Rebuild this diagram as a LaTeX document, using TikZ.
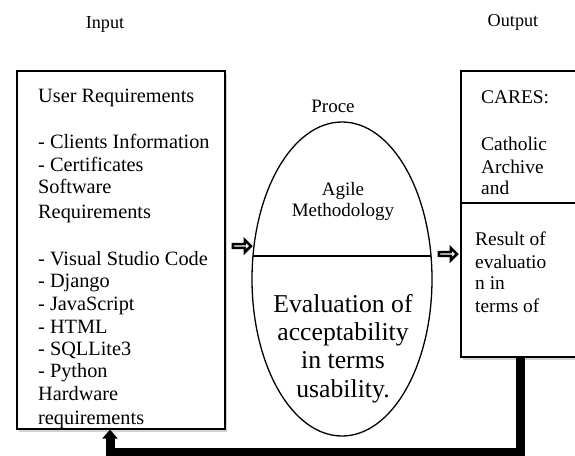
\documentclass[tikz,border=0pt]{standalone}
\usepackage{fontspec}
\setmainfont{Liberation Serif}
\usetikzlibrary{shapes.geometric,shapes.arrows,shadows,calc,arrows.meta}
\tikzset{
  box/.style={draw, line width=1.6pt, fill=white, inner sep=0pt, anchor=north west,
    drop shadow={shadow xshift=2pt, shadow yshift=-3pt, opacity=0.3, fill=black!60}},
  txt/.style={anchor=base west, inner sep=0pt, font=\fontsize{20.3}{23}\selectfont},
  rtxt/.style={anchor=base west, inner sep=0pt, font=\fontsize{19.4}{23}\selectfont},
  head/.style={anchor=base, inner sep=0pt, font=\fontsize{18.2}{22}\selectfont},
  ctxt/.style={anchor=base, inner sep=0pt},
  warrow/.style={shape=single arrow, draw, fill=white, line width=2.6pt, inner sep=0pt,
    minimum width=12pt, minimum height=18pt, single arrow head extend=3pt},
  divline/.style={line width=1.3pt},
  fb/.style={line width=9pt, line join=miter}
}
\begin{document}
\begin{tikzpicture}[x=1pt,y=-1pt]
\useasboundingbox (0,0) rectangle (575,455);
\clip (0,0) rectangle (575,455);
% headings
\node[head] (inlbl) at (105,28) {Input};
\node[head] (outlbl) at (513,27) {Output};
% input box
\node[box, minimum width=208pt, minimum height=358pt] (inbox) at (16,70) {};
\foreach \t/\yy [count=\i] in {{User Requirements}/102, {- Clients Information}/148,
  {- Certificates}/171, {Software}/193, {Requirements}/218, {- Visual Studio Code}/265,
  {- Django}/287, {- JavaScript}/310, {- HTML}/333, {- SQLLite3}/355, {- Python}/377,
  {Hardware}/400, {requirements}/424}
  \node[txt] (L\i) at (38,\yy) {\t};
\draw[line width=1.6pt] (inbox.south west) -- (inbox.south east);
% process ellipse
\node[draw, ellipse, line width=1.3pt, inner sep=0pt, minimum width=180pt, minimum height=314pt] (proc) at (342,279) {};
\draw[divline] ($(proc.center)+(-89,-23)$) coordinate (pl) -- ($(proc.center)+(89,-23)$) coordinate (pr);
\node[ctxt, font=\fontsize{19}{22}\selectfont] (prlbl) at (333,112) {Proce};
\node[ctxt, font=\fontsize{19}{22}\selectfont] (ag1) at (343,195) {Agile};
\node[ctxt, font=\fontsize{19}{22}\selectfont] (ag2) at (343,216) {Methodology};
\node[ctxt, font=\fontsize{25.7}{29}\selectfont] (ev1) at (343,312) {Evaluation of};
\node[ctxt, font=\fontsize{25.7}{29}\selectfont] (ev2) at (343,340) {acceptability};
\node[ctxt, font=\fontsize{25.7}{29}\selectfont] (ev3) at (343,368) {in terms};
\node[ctxt, font=\fontsize{25.7}{29}\selectfont] (ev4) at (343,397) {usability.};
% output box
\node[box, minimum width=140pt, minimum height=286pt] (outbox) at (460,70) {};
\draw[divline] ($(outbox.north west)+(0,133)$) coordinate (dl) -- ($(outbox.north east)+(0,133)$) coordinate (dr);
\node[rtxt] (o1) at (481,103) {CARES:};
\node[rtxt] (o2) at (481,150) {Catholic};
\node[rtxt] (o3) at (481,173) {Archive};
\node[rtxt] (o4) at (481,194) {and};
\node[rtxt] (o5) at (475,245) {Result of};
\node[rtxt] (o6) at (475,268) {evaluatio};
\node[rtxt] (o7) at (475,289) {n in};
\node[rtxt] (o8) at (475,312) {terms of};
% arrows
\node[warrow] (ar1) at (241,246) {};
\node[warrow] (ar2) at (447,254) {};
% feedback connector
\coordinate (fbtop) at ($(outbox.south west)+(60,0)$);
\coordinate (fbend) at ($(inbox.south west)+(94,0)$);
\draw[fb, -{Triangle[length=9pt, width=15pt]}] (fbtop) -- ++(0,95) -| (fbend);
\end{tikzpicture}
\end{document}
